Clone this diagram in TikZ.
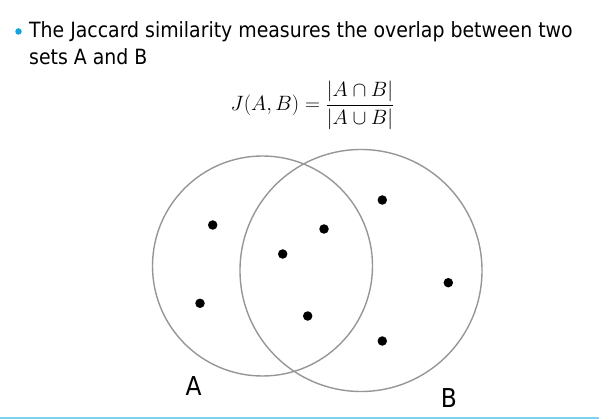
\documentclass[tikz,border=0pt]{standalone}
\usepackage{fontspec}
\setmainfont{DejaVu Sans Condensed}
\newfontfamily\txtfont{DejaVu Sans Condensed}
\definecolor{bulletblue}{RGB}{20,165,220}
\definecolor{rulecyan}{RGB}{125,210,240}
\definecolor{circgray}{RGB}{150,150,150}
\begin{document}
\begin{tikzpicture}[x=1pt,y=-1pt,
  setcircle/.style={draw=circgray, line width=1.4pt},
  elem/.style={circle, fill=black, inner sep=0pt, minimum size=9.5pt},
  bodytext/.style={font=\txtfont\fontsize{21}{27}\selectfont, inner sep=0pt, anchor=base west, text=black},
  setlabel/.style={font=\txtfont\fontsize{26}{30}\selectfont, inner sep=0pt}
]
\useasboundingbox (0,0) rectangle (599,419);
% bullet
\node[circle, fill=bulletblue, inner sep=0pt, minimum size=6.5pt] (bul) at (18.5,31.5) {};
\node[bodytext] (l1) at (29,38) {The Jaccard similarity measures the overlap between two};
\node[bodytext] (l2) at (29,65) {sets A and B};
% formula
\node[inner sep=0pt] (form) at (312.5,105.5) {\fontsize{21}{25}\selectfont$\displaystyle J(A,B)=\frac{|A\cap B|}{|A\cup B|}$};
% circles
\node[setcircle, circle, minimum size=220pt, inner sep=0pt] (ca) at (262.5,266) {};
\node[setcircle, circle, minimum size=242pt, inner sep=0pt] (cb) at (361,270.5) {};
% elements
\node[elem] (e1) at (212.7,225) {};
\node[elem] (e2) at (200,303.3) {};
\node[elem] (e3) at (282.7,254) {};
\node[elem] (e4) at (324,229) {};
\node[elem] (e5) at (307.7,316) {};
\node[elem] (e6) at (382.3,200) {};
\node[elem] (e7) at (448.3,282.7) {};
\node[elem] (e8) at (382.3,341) {};
% labels
\node[setlabel] (la) at (193.5,386.5) {A};
\node[setlabel] (lb) at (449,398) {B};
% bottom rule
\coordinate (r1) at (0,418);
\coordinate (r2) at (599,418);
\draw[draw=rulecyan, line width=2pt] (r1) -- (r2);
\end{tikzpicture}
\end{document}
